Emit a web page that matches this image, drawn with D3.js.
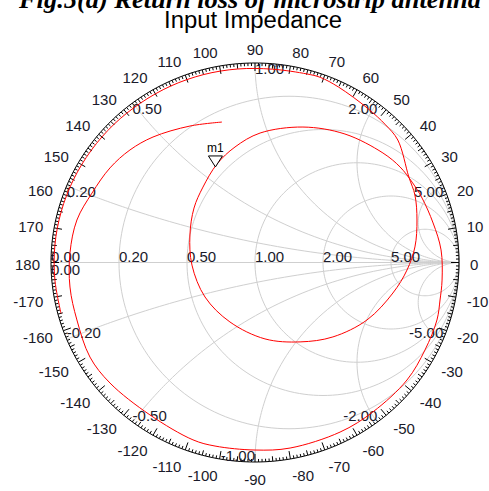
<!DOCTYPE html>
<html>
<head>
<meta charset="utf-8">
<script src="https://cdn.jsdelivr.net/npm/d3@7"></script>
<style>
  html, body { margin: 0; padding: 0; background: #fff; }
  svg { display: block; }
</style>
</head>
<body>
<div id="chart"></div>
<script>
// Chart dimensions
const width = 489;
const height = 491;
const centerX = 255;
const centerY = 262.5;
const radiusX = 204;
const radiusY = 199.5;

// Smith chart grid (normalized r and x)
const resistanceValues = [0.2, 0.5, 1, 2, 5];
const reactanceValues = [0.2, 0.5, 1, 2, 5];
const angleLabels = [0, 10, 20, 30, 40, 50, 60, 70, 80, 90, 100, 110, 120, 130, 140, 150, 160, 170, 180,
  -170, -160, -150, -140, -130, -120, -110, -100, -90, -80, -70, -60, -50, -40, -30, -20, -10];

const gammaRe = [-0.951, -0.981, -0.981, -0.950, -0.890, -0.803, -0.692, -0.560, -0.412, -0.252, -0.085,
  0.085, 0.255, 0.320, 0.410, 0.553, 0.640, 0.700, 0.754,
  0.784, 0.794, 0.784, 0.745, 0.676, 0.549, 0.382, 0.221, 0.049, -0.123, -0.245, -0.309, -0.319, -0.299,
  -0.255, -0.186, -0.098, 0.025, 0.235, 0.441, 0.627, 0.711, 0.770, 0.819, 0.873, 0.912, 0.917, 0.907,
  0.892, 0.833, 0.745, 0.578, 0.417, 0.172, 0.000, -0.196, -0.304, -0.515, -0.711, -0.809, -0.873,
  -0.907, -0.907, -0.873, -0.799, -0.711, -0.613, -0.500, -0.319, -0.162];
const gammaIm = [-0.255, -0.086, 0.086, 0.255, 0.415, 0.562, 0.692, 0.800, 0.885, 0.942, 0.970,
  0.969, 0.945, 0.928, 0.879, 0.772, 0.690, 0.614, 0.429,
  0.338, 0.213, 0.078, -0.038, -0.153, -0.288, -0.373, -0.398, -0.383, -0.298, -0.173, -0.013, 0.138, 0.273,
  0.378, 0.494, 0.579, 0.649, 0.679, 0.644, 0.549, 0.479, 0.403, 0.323, 0.198, 0.063, -0.088, -0.188,
  -0.288, -0.439, -0.589, -0.749, -0.850, -0.930, -0.940, -0.920, -0.889, -0.764, -0.604, -0.474, -0.288,
  -0.123, 0.048, 0.213, 0.348, 0.474, 0.564, 0.629, 0.684, 0.704];

// Marker
const markerName = "m1";
const markerRe = -0.194;
const markerIm = 0.479;

const title = "Input Impedance";
const caption = "Fig.5(a) Return loss of microstrip antenna";

const x = d3.scaleLinear().domain([-1, 1]).range([centerX - radiusX, centerX + radiusX]);
const y = d3.scaleLinear().domain([-1, 1]).range([centerY + radiusY, centerY - radiusY]);

const svg = d3.select("#chart")
  .append("svg")
  .attr("width", width)
  .attr("height", height)
  .attr("viewBox", [0, 0, width, height])
  .style("font-family", "'Liberation Sans', Arial, sans-serif");

const line = d3.line()
  .x(d => x(d[0]))
  .y(d => y(d[1]));

// impedance -> reflection coefficient
function toGamma(r, xx) {
  const den = (r + 1) * (r + 1) + xx * xx;
  return [(r * r + xx * xx - 1) / den, (2 * xx) / den];
}

const grid = svg.append("g").attr("class", "grid")
  .attr("fill", "none")
  .attr("stroke", "#cfcfcf")
  .attr("stroke-width", 1);

// Constant resistance circles
resistanceValues.forEach(r => {
  const c = r / (1 + r), rad = 1 / (1 + r);
  const pts = d3.range(0, 361, 2).map(a => {
    const t = a * Math.PI / 180;
    return [c + rad * Math.cos(t), rad * Math.sin(t)];
  });
  grid.append("path").attr("d", line(pts));
});

// Constant reactance arcs
const rSamples = d3.range(0, 200).map(i => i === 0 ? 0 : Math.pow(10, -3 + i * 0.03));
reactanceValues.forEach(xv => {
  [xv, -xv].forEach(v => {
    const pts = rSamples.map(r => toGamma(r, v)).concat([[1, 0]]);
    grid.append("path").attr("d", line(pts));
  });
});

// Real axis
grid.append("line")
  .attr("x1", x(-1)).attr("x2", x(1))
  .attr("y1", y(0)).attr("y2", y(0));

// Outer ring with angle ticks
const ring = svg.append("g").attr("stroke", "#000").attr("fill", "none");
ring.append("path")
  .attr("d", line(d3.range(0, 361, 1).map(a => [Math.cos(a * Math.PI / 180), Math.sin(a * Math.PI / 180)])));

d3.range(-179, 181).forEach(a => {
  const t = a * Math.PI / 180;
  const len = a % 10 === 0 ? 8 : a % 5 === 0 ? 5 : 3;
  const x0 = x(Math.cos(t)), y0 = y(Math.sin(t));
  ring.append("line")
    .attr("x1", x0).attr("y1", y0)
    .attr("x2", x0 - len * Math.cos(t)).attr("y2", y0 + len * Math.sin(t));
});

// Angle labels
svg.append("g")
  .selectAll("text")
  .data(angleLabels)
  .join("text")
  .attr("x", d => x(Math.cos(d * Math.PI / 180)) + 11 * Math.cos(d * Math.PI / 180))
  .attr("y", d => {
    const s = Math.sin(d * Math.PI / 180);
    return y(s) - 11 * s + 7 - 4.5 * s;
  })
  .attr("text-anchor", d => {
    const c = Math.cos(d * Math.PI / 180);
    return c < -0.05 ? "end" : c > 0.05 ? "start" : "middle";
  })
  .attr("font-size", 15)
  .attr("fill", "#1a1a2a")
  .text(d => d);

// Resistance labels along the real axis
const labels = svg.append("g").attr("font-size", 15).attr("fill", "#1a1a2a");
[0].concat(resistanceValues).forEach(r => {
  labels.append("text")
    .attr("x", x((r - 1) / (r + 1)))
    .attr("y", y(0) - 1)
    .text(r.toFixed(2));
});
labels.append("text")
  .attr("x", x(-1))
  .attr("y", y(0) + 12)
  .text((0).toFixed(2));

// Reactance labels on the ring
reactanceValues.forEach(xv => {
  const p = toGamma(0, xv);
  labels.append("text")
    .attr("x", x(p[0]))
    .attr("y", y(p[1]) + 11)
    .attr("text-anchor", xv <= 1 ? "start" : "end")
    .text(xv.toFixed(2));
  const q = toGamma(0, -xv);
  labels.append("text")
    .attr("x", x(q[0]))
    .attr("y", y(q[1]) - 1)
    .attr("text-anchor", xv < 1 ? "start" : "end")
    .text((-xv).toFixed(2));
});

// Trace
svg.append("path")
  .datum(d3.zip(gammaRe, gammaIm))
  .attr("fill", "none")
  .attr("stroke", "#ff0000")
  .attr("stroke-width", 1)
  .attr("d", d3.line().curve(d3.curveCatmullRom).x(d => x(d[0])).y(d => y(d[1])));

// Marker m1
const mx = x(markerRe), my = y(markerIm);
svg.append("path")
  .attr("d", `M${mx},${my} L${mx - 7},${my - 11} L${mx + 7},${my - 11} Z`)
  .attr("fill", "#fff")
  .attr("stroke", "#000");
svg.append("text")
  .attr("x", mx)
  .attr("y", my - 15)
  .attr("text-anchor", "middle")
  .attr("font-size", 12)
  .attr("fill", "#000")
  .text(markerName);

// Titles
svg.append("text")
  .attr("x", 253)
  .attr("y", 28)
  .attr("text-anchor", "middle")
  .attr("font-size", 23)
  .attr("textLength", 178)
  .attr("lengthAdjust", "spacingAndGlyphs")
  .attr("fill", "#000")
  .text(title);

svg.append("text")
  .attr("x", 250)
  .attr("y", 8)
  .attr("text-anchor", "middle")
  .attr("font-family", "'Liberation Serif', 'Times New Roman', serif")
  .attr("font-weight", "bold")
  .attr("font-style", "italic")
  .attr("font-size", 25)
  .attr("textLength", 462)
  .attr("lengthAdjust", "spacingAndGlyphs")
  .attr("fill", "#000")
  .text(caption);
</script>
</body>
</html>
